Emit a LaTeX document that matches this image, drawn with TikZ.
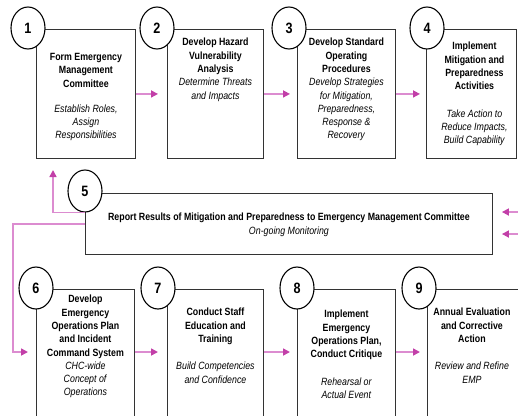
\documentclass[tikz,border=0pt]{standalone}
\usepackage{fontspec}
\setsansfont{Liberation Sans}[FakeStretch=0.84]
\usetikzlibrary{shapes}
\usetikzlibrary{arrows.meta,positioning}
\tikzstyle{every picture}+=[font=\sffamily]
\tikzstyle{stepbox}=[draw=black!80, line width=0.9bp, anchor=north west, inner sep=0pt]
\tikzstyle{numcirc}=[ellipse, draw=black, line width=1.1bp, fill=white, minimum width=34bp, minimum height=42bp, inner sep=0pt, font=\sffamily\bfseries\fontsize{15bp}{15bp}\selectfont]
\tikzstyle{steptext}=[align=center, inner sep=0pt, font=\sffamily\fontsize{10.5bp}{13.3bp}\selectfont]
\tikzstyle{flow}=[draw=flowpink, line width=1.6bp, -{Triangle[length=7bp, width=7bp, color=tippink]}]

\begin{document}
\begin{tikzpicture}[x=1bp,y=-1bp]

\definecolor{flowpink}{HTML}{DC8CD0}
\definecolor{tippink}{HTML}{C23FA8}

\useasboundingbox (0,0) rectangle (518,415);
\clip (0,0) rectangle (518,415);

%% boxes, top row
\node[stepbox, minimum width=99bp, minimum height=129bp] (b1) at (36,29) {};
\node[stepbox, minimum width=96bp, minimum height=129bp] (b2) at (167,29) {};
\node[stepbox, minimum width=98bp, minimum height=129bp] (b3) at (297,29) {};
\node[stepbox, minimum width=90bp, minimum height=129bp] (b4) at (426,29) {};
%% report box
\node[stepbox, minimum width=407bp, minimum height=61bp] (b5) at (85,193) {};
%% boxes, bottom row
\node[stepbox, minimum width=98bp, minimum height=150bp] (b6) at (36,289) {};
\node[stepbox, minimum width=96bp, minimum height=150bp] (b7) at (167,289) {};
\node[stepbox, minimum width=98bp, minimum height=150bp] (b8) at (297,289) {};
\node[stepbox, minimum width=93bp, minimum height=150bp] (b9) at (427,289) {};

%% texts
\node[steptext, below=24bp of b1.north] (t1) {\textbf{Form Emergency}\\\textbf{Management}\\\textbf{Committee}\\[12bp]\textit{Establish Roles,}\\\textit{Assign}\\\textit{Responsibilities}};
\node[steptext, below=9bp of b2.north] (t2) {\textbf{Develop Hazard}\\\textbf{Vulnerability}\\\textbf{Analysis}\\\textit{Determine Threats}\\\textit{and Impacts}};
\node[steptext, below=9bp of b3.north] (t3) {\textbf{Develop Standard}\\\textbf{Operating}\\\textbf{Procedures}\\\textit{Develop Strategies}\\\textit{for Mitigation,}\\\textit{Preparedness,}\\\textit{Response \&}\\\textit{Recovery}};
\node[steptext, below=13bp of b4.north, xshift=3bp] (t4) {\textbf{Implement}\\\textbf{Mitigation and}\\\textbf{Preparedness}\\\textbf{Activities}\\[14bp]\textit{Take Action to}\\\textit{Reduce Impacts,}\\\textit{Build Capability}};
\node[steptext, below=20bp of b5.north] (t5) {\textbf{Report Results of Mitigation and Preparedness to Emergency Management Committee}\\\textit{On-going Monitoring}};
\node[steptext, below=6bp of b6.north] (t6) {\textbf{Develop}\\\textbf{Emergency}\\\textbf{Operations Plan}\\\textbf{and Incident}\\\textbf{Command System}\\\textit{CHC-wide}\\\textit{Concept of}\\\textit{Operations}};
\node[steptext, below=19bp of b7.north] (t7) {\textbf{Conduct Staff}\\\textbf{Education and}\\\textbf{Training}\\[14bp]\textit{Build Competencies}\\\textit{and Confidence}};
\node[steptext, below=21bp of b8.north] (t8) {\textbf{Implement}\\\textbf{Emergency}\\\textbf{Operations Plan,}\\\textbf{Conduct Critique}\\[14bp]\textit{Rehearsal or}\\\textit{Actual Event}};
\node[steptext, below=19bp of b9.north, xshift=-2bp] (t9) {\textbf{Annual Evaluation}\\\textbf{and Corrective}\\\textbf{Action}\\[14bp]\textit{Review and Refine}\\\textit{EMP}};

%% numbers
\node[numcirc] (n1) at (28,28) {1};
\node[numcirc] (n2) at (157,28) {2};
\node[numcirc] (n3) at (289,28) {3};
\node[numcirc] (n4) at (427,28) {4};
\node[numcirc] (n5) at (85,191) {5};
\node[numcirc] (n6) at (36,288) {6};
\node[numcirc] (n7) at (158,288) {7};
\node[numcirc] (n8) at (297,288) {8};
\node[numcirc] (n9) at (419,288) {9};

%% connectors
\coordinate (row2) at (0,352);
\coordinate (up) at (53,170);
\coordinate (in1) at (530,212);
\coordinate (in2) at (530,234);

\draw[flow, shorten >=9bp] (b1.east) -- (b2.west);
\draw[flow, shorten >=7bp] (b2.east) -- (b3.west);
\draw[flow, shorten >=6bp] (b3.east) -- (b4.west);

\draw[flow] (n5.south) -| (up);
\draw[flow, shorten >=8bp] (b5.west) -- ++(-72,0) |- (b6.west |- row2);
\draw[flow, shorten >=9bp] (in1) -- (b5.east |- in1);
\draw[flow, shorten >=9bp] (in2) -- (b5.east |- in2);

\draw[flow, shorten >=9bp] (b6.east |- row2) -- (b7.west |- row2);
\draw[flow, shorten >=7bp] (b7.east |- row2) -- (b8.west |- row2);
\draw[flow, shorten >=7bp] (b8.east |- row2) -- (b9.west |- row2);

\end{tikzpicture}
\end{document}
